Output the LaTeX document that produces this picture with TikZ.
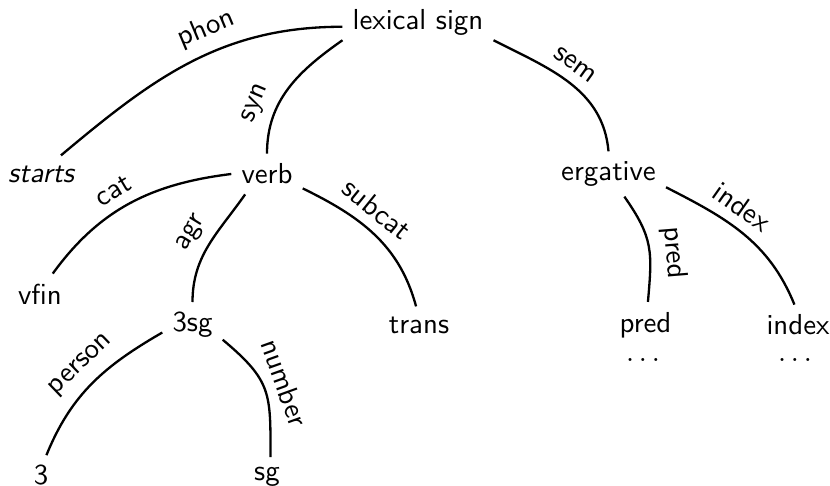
\documentclass[tikz,border=0pt]{standalone}
\usepackage{fontspec}
\begin{document}
\begin{tikzpicture}[x=0.346pt,y=0.346pt,
  nd/.style={font=\sffamily},
  lbl/.style={font=\sffamily,sloped,above},
  edge/.style={line width=0.8pt}]
\useasboundingbox (0,0) rectangle (830,-486);
\node[nd] (lex) at (418,-22.8) {lexical sign};
\node[nd,font=\sffamily\itshape] (starts) at (41,-174) {starts};
\node[nd] (verb) at (267,-174) {verb};
\node[nd] (erg) at (608.5,-174) {ergative};
\node[nd] (vfin) at (40,-294) {vfin};
\node[nd] (n3sg) at (192.5,-325) {3sg};
\node[nd] (trans) at (419,-325) {trans};
\node[nd] (pred) at (645.5,-325) {pred};
\node[nd] (index) at (798,-325) {index};
\node[nd] (pdots) at (643,-360) {$\ldots$};
\node[nd] (idots) at (795,-360) {$\ldots$};
\node[nd] (n3) at (41,-475.5) {3};
\node[nd] (sg) at (267,-477) {sg};

\draw[edge] (lex.183) to[out=180,in=40] node[lbl,pos=.41]{phon} (starts.43);
\draw[edge] (lex.193) to[out=215,in=90] node[lbl,pos=.7]{syn} (verb.north);
\draw[edge] (lex.347) to[out=-27,in=95] node[lbl,pos=.46]{sem} (erg.north);
\draw[edge] (verb.west) to[out=187,in=54] node[lbl,pos=.54]{cat} (vfin.58);
\draw[edge] (verb.223) to[out=235,in=90] node[lbl,pos=.49]{agr} (n3sg.north);
\draw[edge] (verb.-22) to[out=-26,in=105] node[lbl,pos=.41]{subcat} (trans.99);
\draw[edge] (erg.-55) to[out=-55,in=85,looseness=1.2] node[lbl,pos=.6]{pred} (pred.84);
\draw[edge] (erg.-13) to[out=-27,in=112] node[lbl,pos=.4]{index} (index.100);
\draw[edge] (n3sg.194) to[out=210,in=68] node[lbl,pos=.47]{person} (n3.75);
\draw[edge] (n3sg.-26) to[out=-40,in=90,looseness=1.3] node[lbl,pos=.5]{number} (sg.80);
\end{tikzpicture}
\end{document}
